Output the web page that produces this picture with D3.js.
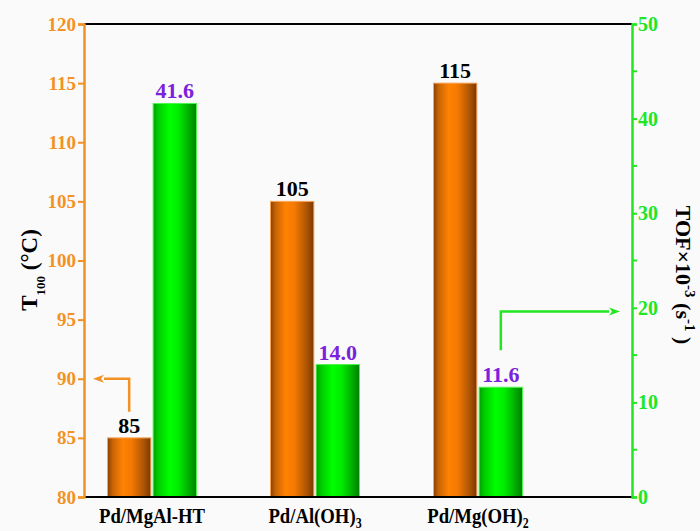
<!DOCTYPE html>
<html>
<head>
<meta charset="utf-8">
<script src="https://cdn.jsdelivr.net/npm/d3@7"></script>
<style>
  html, body { margin: 0; padding: 0; background: #fafafa; }
  svg { display: block; }
  text { font-family: "Liberation Serif", "Times New Roman", serif; font-weight: bold; }
</style>
</head>
<body>
<svg id="chart" width="700" height="531"></svg>
<script>
// Catalysts and their subscripts in the category labels
const categories = ["Pd/MgAl-HT", "Pd/Al(OH)3", "Pd/Mg(OH)2"];
const categoryBase = ["Pd/MgAl-HT", "Pd/Al(OH)", "Pd/Mg(OH)"];
const categorySub = ["", "3", "2"];

// Left series: T100 (°C); right series: TOF x10^-3 (s^-1)
const t100Values = [85, 105, 115];
const tofValues = [41.6, 14.0, 11.6];
const tofLabels = ["41.6", "14.0", "11.6"];

// Axis ticks
const leftTicks = [80, 85, 90, 95, 100, 105, 110, 115, 120];
const rightTicks = [0, 10, 20, 30, 40, 50];
const rightMinorTicks = [5, 15, 25, 35, 45];

// Axis indicator arrows: which bar they start from, start level and the level they point to
const t100Arrow = { category: 0, from: 87.2, to: 90 };
const tofArrow = { category: 2, from: 15.5, to: 19.6 };

const orange = "#f39224";
const green = "#22e622";
const purple = "#7b22dc";

const svg = d3.select("#chart");
const plotLeft = 84, plotRight = 632, plotTop = 24, plotBottom = 497;

const yL = d3.scaleLinear().domain([80, 120]).range([plotBottom, plotTop]);
const yR = d3.scaleLinear().domain([0, 50]).range([plotBottom, plotTop]);
const x0 = d3.scaleBand().domain(categories).range([70.5, 559.5])
  .paddingInner(0.454).paddingOuter(0.227);
const x1 = d3.scaleBand().domain(["t100", "tof"]).range([0, x0.bandwidth()]).paddingInner(0.05);

// Cylinder-like shading for the bars
const defs = svg.append("defs");
function shade(id, stops) {
  const g = defs.append("linearGradient").attr("id", id)
    .attr("x1", "0%").attr("x2", "100%").attr("y1", "0%").attr("y2", "0%");
  stops.forEach(([o, c]) => g.append("stop").attr("offset", o).attr("stop-color", c));
}
shade("gradOrange", [["0%", "#8c4003"], ["12%", "#c86405"], ["35%", "#ff8203"], ["55%", "#f57a02"], ["85%", "#a85204"], ["100%", "#7a3702"]]);
shade("gradGreen", [["0%", "#00a000"], ["12%", "#00cc00"], ["38%", "#00ff00"], ["58%", "#00ec00"], ["85%", "#00a800"], ["100%", "#008000"]]);

// Bars
const groups = svg.append("g").selectAll("g").data(categories).join("g")
  .attr("transform", d => `translate(${x0(d)},0)`);

groups.append("rect")
  .attr("x", x1("t100")).attr("width", x1.bandwidth())
  .attr("y", (d, i) => yL(t100Values[i]))
  .attr("height", (d, i) => yL(80) - yL(t100Values[i]))
  .attr("fill", "url(#gradOrange)").attr("stroke", "#f7a55a").attr("stroke-width", 1);

groups.append("rect")
  .attr("x", x1("tof")).attr("width", x1.bandwidth())
  .attr("y", (d, i) => yR(tofValues[i]))
  .attr("height", (d, i) => yR(0) - yR(tofValues[i]))
  .attr("fill", "url(#gradGreen)").attr("stroke", "#4cf54c").attr("stroke-width", 1);

// Value labels
groups.append("text")
  .attr("x", x1("t100") + x1.bandwidth() / 2)
  .attr("y", (d, i) => yL(t100Values[i]) - 5)
  .attr("text-anchor", "middle").attr("font-size", 22).attr("fill", "#000")
  .text((d, i) => t100Values[i]);

groups.append("text")
  .attr("x", x1("tof") + x1.bandwidth() / 2)
  .attr("y", (d, i) => yR(tofValues[i]) - 5)
  .attr("text-anchor", "middle").attr("font-size", 22).attr("fill", purple)
  .text((d, i) => tofLabels[i]);

// Frame: top and bottom black lines
svg.append("line").attr("x1", plotLeft).attr("x2", plotRight).attr("y1", plotTop).attr("y2", plotTop)
  .attr("stroke", "#000").attr("stroke-width", 2);
svg.append("line").attr("x1", plotLeft).attr("x2", plotRight).attr("y1", plotBottom).attr("y2", plotBottom)
  .attr("stroke", "#000").attr("stroke-width", 2);

// Left axis (T100)
const axL = svg.append("g").attr("transform", `translate(${plotLeft},0)`)
  .call(d3.axisLeft(yL).tickValues(leftTicks).tickSize(6).tickPadding(2).tickFormat(d3.format("d")));
axL.select(".domain").attr("stroke", orange).attr("stroke-width", 2.5);
axL.selectAll(".tick line").attr("stroke", orange).attr("stroke-width", 2);
axL.selectAll(".tick text").attr("fill", orange).style("font-size", "19px");

// Right axis (TOF)
const axR = svg.append("g").attr("transform", `translate(${plotRight},0)`)
  .call(d3.axisRight(yR).tickValues(rightTicks).tickSize(5).tickPadding(1).tickFormat(d3.format("d")));
axR.select(".domain").attr("stroke", green).attr("stroke-width", 2.5);
axR.selectAll(".tick line").attr("stroke", green).attr("stroke-width", 2);
axR.selectAll(".tick text").attr("fill", green).style("font-size", "20px");
axR.append("g").selectAll("line").data(rightMinorTicks).join("line")
  .attr("x1", 0).attr("x2", 5).attr("y1", d => yR(d)).attr("y2", d => yR(d))
  .attr("stroke", green).attr("stroke-width", 2);

// Category labels with subscripts (slightly condensed type)
const cat = svg.append("g").selectAll("text").data(categories).join("text")
  .attr("transform", d => `translate(${x0(d) + x0.bandwidth() / 2},523) scale(0.85,1)`)
  .attr("text-anchor", "middle").attr("font-size", 22).attr("fill", "#000");
cat.append("tspan").text((d, i) => categoryBase[i]);
cat.append("tspan").attr("font-size", 14).attr("dy", 5).text((d, i) => categorySub[i]);

// Left axis title: T100 (°C)
const tl = svg.append("text").attr("transform", "translate(37,270) rotate(-90)")
  .attr("text-anchor", "middle").attr("font-size", 23).attr("fill", "#000");
tl.append("tspan").text("T");
tl.append("tspan").attr("font-size", 13).attr("dy", 8).text("100");
tl.append("tspan").attr("dy", -8).text(" (°C)");

// Right axis title: TOF×10^-3 (s^-1)
const tr = svg.append("text").attr("transform", "translate(676,275) rotate(90)")
  .attr("text-anchor", "middle").attr("font-size", 22).attr("fill", "#000");
tr.append("tspan").text("TOF×10");
tr.append("tspan").attr("font-size", 15).attr("dy", -9).text("-3");
tr.append("tspan").attr("dy", 9).text(" (s");
tr.append("tspan").attr("font-size", 15).attr("dy", -9).text("-1");
tr.append("tspan").attr("dy", 9).text(" )");

// Indicator arrows
function arrow(color, xStart, yStart, yLevel, xEnd) {
  const dir = Math.sign(xEnd - xStart);
  const head = 11;
  svg.append("path")
    .attr("d", `M${xStart},${yStart}V${yLevel}H${xEnd - dir * head}`)
    .attr("fill", "none").attr("stroke", color).attr("stroke-width", 2.5);
  svg.append("path")
    .attr("d", `M${xEnd},${yLevel}L${xEnd - dir * head},${yLevel - 4}L${xEnd - dir * (head - 3)},${yLevel}L${xEnd - dir * head},${yLevel + 4}Z`)
    .attr("fill", color);
}
const c0 = categories[t100Arrow.category];
arrow(orange, x0(c0) + x1("t100") + x1.bandwidth() / 2, yL(t100Arrow.from), yL(t100Arrow.to), plotLeft + 9);
const c2 = categories[tofArrow.category];
arrow(green, x0(c2) + x1("tof") + x1.bandwidth() / 2, yR(tofArrow.from), yR(tofArrow.to), plotRight - 12);
</script>
</body>
</html>
